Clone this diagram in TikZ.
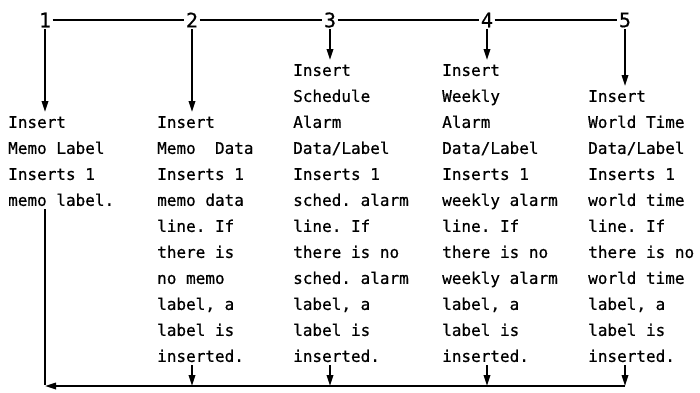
\documentclass[tikz,border=0pt]{standalone}
\usepackage{fontspec}
\setmonofont[FakeBold=0.6,AutoFakeBold=0.6]{DejaVu Sans Mono}
\usetikzlibrary{arrows.meta}
\begin{document}
\begin{tikzpicture}[x=1pt,y=-1pt,
  line/.style={line width=1.7pt},
  flow/.style={line width=1.7pt, -{Triangle[length=11pt,width=6.5pt]}},
  num/.style={font=\ttfamily\fontsize{20}{20}\selectfont, inner sep=1.5pt},
  txt/.style={font=\ttfamily\fontsize{16}{26}\selectfont, align=left, inner sep=0pt, anchor=north west}]
  \useasboundingbox[fill=white] (0,0) rectangle (700,392);

  % step numbers along the top rail
  \node[num] (d1) at (45,20) {1};
  \node[num] (d2) at (192,20) {2};
  \node[num] (d3) at (330,20) {3};
  \node[num] (d4) at (487,20) {4};
  \node[num] (d5) at (625,20) {5};

  % step descriptions
  \node[txt] (t1) at (8,116) {Insert\\Memo Label\\Inserts 1\\memo label.};
  \node[txt] (t2) at (157,116) {Insert\\Memo\ \ Data\\Inserts 1\\memo data\\line. If\\there is\\no memo\\label, a\\label is\\inserted.};
  \node[txt] (t3) at (293,64) {Insert\\Schedule\\Alarm\\Data/Label\\Inserts 1\\sched. alarm\\line. If\\there is no\\sched. alarm\\label, a\\label is\\inserted.};
  \node[txt] (t4) at (442,64) {Insert\\Weekly\\Alarm\\Data/Label\\Inserts 1\\weekly alarm\\line. If\\there is no\\weekly alarm\\label, a\\label is\\inserted.};
  \node[txt] (t5) at (588,90) {Insert\\World Time\\Data/Label\\Inserts 1\\world time\\line. If\\there is no\\world time\\label, a\\label is\\inserted.};

  % bottom return rail
  \coordinate (bot) at (0,386);

  % top rail
  \draw[line] (d1) -- (d2) -- (d3) -- (d4) -- (d5);

  % arrows down into each step
  \foreach \i in {1,...,5}
    \draw[flow, shorten >=4pt] (d\i) -- (d\i |- t\i.north);

  % arrows from each step onto the return rail
  \foreach \i in {2,...,5}
    \draw[flow, shorten <=3pt] (d\i |- t\i.south) -- (d\i |- bot);

  % return rail back to step 1
  \draw[line] (d1 |- t1.south) ++(0,3) -- ([yshift=1pt]d1 |- bot);
  \draw[flow] (d5 |- bot) -- (d1 |- bot);
\end{tikzpicture}
\end{document}
